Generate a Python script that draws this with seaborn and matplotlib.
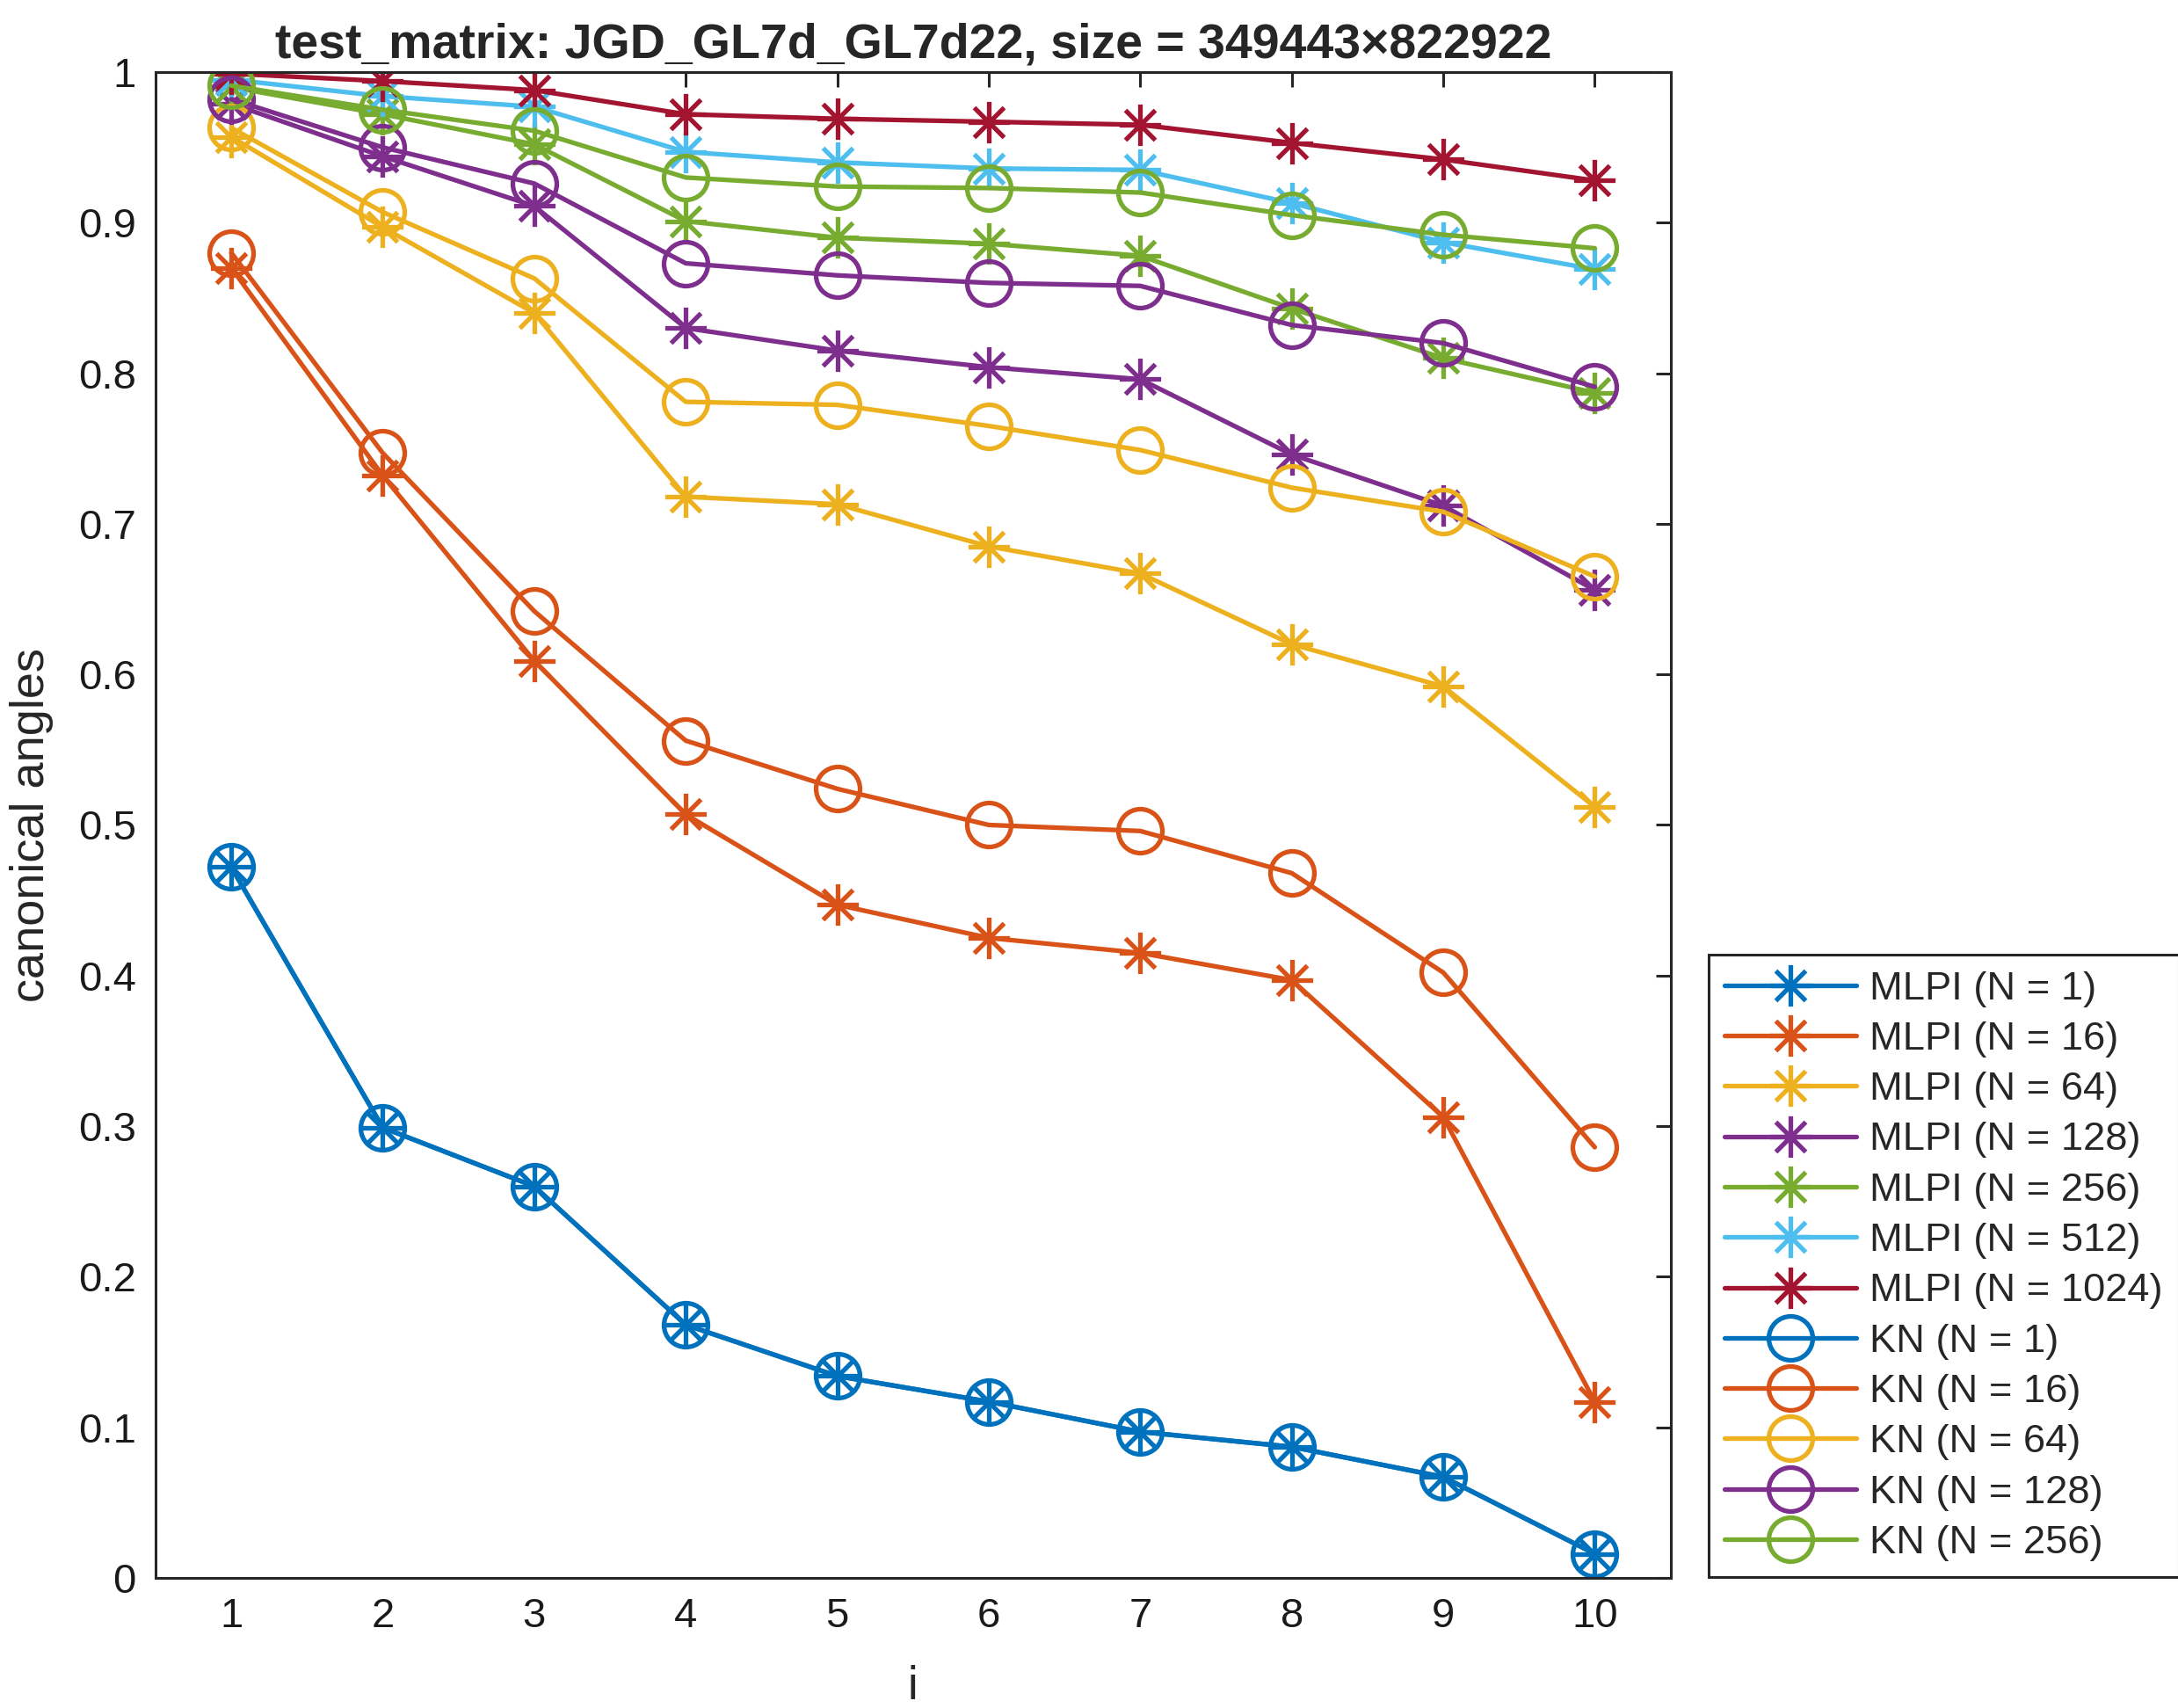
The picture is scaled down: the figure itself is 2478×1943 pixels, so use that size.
import numpy as np
import pandas as pd
import matplotlib
matplotlib.use("Agg")
import matplotlib.pyplot as plt
from matplotlib.path import Path
import seaborn as sns

# Index of the canonical angle
idx = list(range(1, 11))

# MLPI results for each block size N
mlpi_n1 = [0.472, 0.299, 0.260, 0.168, 0.134, 0.117, 0.097, 0.087, 0.067, 0.016]
mlpi_n16 = [0.870, 0.732, 0.609, 0.507, 0.447, 0.425, 0.415, 0.397, 0.306, 0.117]
mlpi_n64 = [0.957, 0.897, 0.840, 0.718, 0.713, 0.685, 0.667, 0.620, 0.592, 0.512]
mlpi_n128 = [0.979, 0.944, 0.911, 0.830, 0.815, 0.804, 0.796, 0.746, 0.712, 0.656]
mlpi_n256 = [0.990, 0.972, 0.952, 0.901, 0.890, 0.886, 0.878, 0.843, 0.810, 0.787]
mlpi_n512 = [0.995, 0.984, 0.977, 0.947, 0.940, 0.936, 0.935, 0.913, 0.887, 0.869]
mlpi_n1024 = [0.999, 0.994, 0.988, 0.972, 0.969, 0.967, 0.965, 0.953, 0.942, 0.928]

# KN results for each block size N
kn_n1 = [0.472, 0.299, 0.260, 0.168, 0.134, 0.117, 0.097, 0.087, 0.067, 0.016]
kn_n16 = [0.880, 0.747, 0.642, 0.556, 0.524, 0.500, 0.496, 0.468, 0.402, 0.286]
kn_n64 = [0.963, 0.907, 0.863, 0.781, 0.779, 0.765, 0.749, 0.724, 0.708, 0.665]
kn_n128 = [0.982, 0.950, 0.926, 0.873, 0.865, 0.860, 0.858, 0.832, 0.820, 0.791]
kn_n256 = [0.991, 0.975, 0.961, 0.930, 0.924, 0.923, 0.920, 0.905, 0.892, 0.883]

mlpi_labels = ["MLPI (N = 1)", "MLPI (N = 16)", "MLPI (N = 64)", "MLPI (N = 128)",
               "MLPI (N = 256)", "MLPI (N = 512)", "MLPI (N = 1024)"]
kn_labels = ["KN (N = 1)", "KN (N = 16)", "KN (N = 64)", "KN (N = 128)", "KN (N = 256)"]

x_ticks = list(range(1, 11))
y_ticks = [0, 0.1, 0.2, 0.3, 0.4, 0.5, 0.6, 0.7, 0.8, 0.9, 1.0]
y_ticklabels = ["0", "0.1", "0.2", "0.3", "0.4", "0.5", "0.6", "0.7", "0.8", "0.9", "1"]

title = "test_matrix: JGD_GL7d_GL7d22, size = 349443\u00d7822922"

palette = ["#0072BD", "#D95319", "#EDB120", "#7E2F8E", "#77AC30", "#4DBEEE", "#A2142F"]

sns.set_style("white")
plt.rcParams["font.family"] = ["Liberation Sans", "DejaVu Sans"]

# Asterisk marker: a plus with a cross overlaid
d = 0.72
asterisk = Path(
    [(0, -1), (0, 1), (-1, 0), (1, 0), (-d, -d), (d, d), (-d, d), (d, -d)],
    [Path.MOVETO, Path.LINETO] * 4,
)

fig = plt.figure(figsize=(12.39, 9.715), dpi=200)
ax = fig.add_axes([0.0714, 0.0762, 0.6956, 0.8816])

lw = 1.9
mlpi_series = [mlpi_n1, mlpi_n16, mlpi_n64, mlpi_n128, mlpi_n256, mlpi_n512, mlpi_n1024]
kn_series = [kn_n1, kn_n16, kn_n64, kn_n128, kn_n256]

for k, (vals, lab) in enumerate(zip(mlpi_series, mlpi_labels)):
    df = pd.DataFrame({"i": idx, "angle": vals})
    sns.lineplot(data=df, x="i", y="angle", ax=ax, color=palette[k], label=lab,
                 marker=asterisk, markersize=17, markerfacecolor="none",
                 markeredgecolor=palette[k], markeredgewidth=lw, linewidth=lw)

for k, (vals, lab) in enumerate(zip(kn_series, kn_labels)):
    df = pd.DataFrame({"i": idx, "angle": vals})
    sns.lineplot(data=df, x="i", y="angle", ax=ax, color=palette[k], label=lab,
                 marker="o", markersize=18, markerfacecolor="none",
                 markeredgecolor=palette[k], markeredgewidth=lw, linewidth=lw)

ax.set_xlim(0.5, 10.5)
ax.set_ylim(0, 1)
ax.set_xticks(x_ticks)
ax.set_xticklabels([str(t) for t in x_ticks])
ax.set_yticks(y_ticks)
ax.set_yticklabels(y_ticklabels)

axis_color = "#262626"
for sp in ax.spines.values():
    sp.set_visible(True)
    sp.set_color(axis_color)
    sp.set_linewidth(1.1)
ax.tick_params(direction="in", length=6, width=1.1, colors=axis_color,
               top=True, right=True, labelsize=17, pad=8)
for t in ax.get_xticklabels() + ax.get_yticklabels():
    t.set_color("#1a1a1a")

ax.set_xlabel("i", fontsize=19, labelpad=12)
ax.set_ylabel("canonical angles", fontsize=19.5, labelpad=10)
ax.set_title(title, fontsize=20, fontweight="bold", pad=6)

handles, labels = ax.get_legend_handles_labels()
ax.legend_.remove()
leg = fig.legend(handles, labels, loc="lower left",
                 bbox_to_anchor=(0.7845, 0.0767), bbox_transform=fig.transFigure,
                 fontsize=16.3, frameon=True, fancybox=False, framealpha=1,
                 edgecolor=axis_color, handlelength=3.3, handletextpad=0.35,
                 labelspacing=0.36, borderpad=0.4, borderaxespad=0)
leg.get_frame().set_linewidth(1.1)

fig.savefig("out.png", dpi=200)
